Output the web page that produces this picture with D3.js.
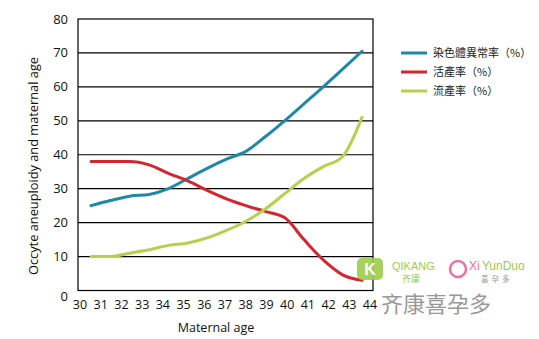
<!DOCTYPE html>
<html><head><meta charset="utf-8">
<script src="https://cdn.jsdelivr.net/npm/d3@7"></script>
<style>body{margin:0;background:#fff}svg{display:block}</style>
</head><body>
<svg id="c" width="539" height="339"></svg>
<script>
const ages = [30,31,32,33,34,35,36,37,38,39,40,41,42,43,44];
const yTicks = [0,10,20,30,40,50,60,70,80];
const aneuploidy = [25,26.5,27.8,28.3,30,33,36,38.7,41,45.3,50,55,60,65.2,70.5];
const liveBirth = [38,38,38,37,34.5,32.3,29.5,27,25,23.3,21.5,15,9,4.6,3];
const miscarriage = [10,10,11,12,13.3,14,15.5,17.7,20.4,24,28.5,33,36.5,39.5,51];
const seriesNames = ["染色體異常率（%）","活產率（%）","流產率（%）"];
const seriesColors = ["#1d89a8","#d3262f","#b7d04c"];
const xTitle = "Maternal age";
const yTitle = "Occyte aneuploidy and maternal age";

const svg = d3.select("#c");
const L=78,R=373,T=19,B=290.5;
const y = d3.scaleLinear().domain([0,80]).range([B,T]);
const xLab = d3.scalePoint().domain(ages).range([80,370]);
const xData = d3.scaleLinear().domain([30,44]).range([91,362]);
const font = "'Open Sans', 'Noto Sans', sans-serif";

// gridlines
svg.append("g").selectAll("line").data(yTicks.filter(d=>d>0&&d<80)).join("line")
  .attr("x1",L).attr("x2",R).attr("y1",d=>y(d)).attr("y2",d=>y(d))
  .attr("stroke","#000").attr("stroke-width",1.2);
svg.append("rect").attr("x",L).attr("y",T).attr("width",R-L).attr("height",B-T)
  .attr("fill","none").attr("stroke","#000").attr("stroke-width",1.2);

// y tick labels
svg.append("g").selectAll("text").data(yTicks).join("text")
  .attr("x",68).attr("y",d=>d===0?y(d)+6:y(d)).attr("dy","0.35em")
  .attr("text-anchor","end").attr("font-family",font).attr("font-size",13).attr("fill","#111")
  .text(d=>d);
// x tick labels
svg.append("g").selectAll("text").data(ages).join("text")
  .attr("x",d=>xLab(d)).attr("y",305).attr("dy","0.35em")
  .attr("text-anchor","middle").attr("font-family",font).attr("font-size",12.5).attr("fill","#111")
  .text(d=>d);
svg.append("text").attr("x",216).attr("y",328).attr("dy","0.35em").attr("text-anchor","middle")
  .attr("font-family",font).attr("font-size",12.5).attr("fill","#111").text(xTitle);
svg.append("text").attr("transform","translate(34,166) rotate(-90)").attr("dy","0.35em")
  .attr("text-anchor","middle").attr("font-family",font).attr("font-size",12.8).attr("fill","#111").text(yTitle);

// lines
const line = d3.line().x((d,i)=>xData(ages[i])).y(d=>y(d)).curve(d3.curveMonotoneX);
[aneuploidy,liveBirth,miscarriage].forEach((s,i)=>{
  svg.append("path").attr("d",line(s)).attr("fill","none")
    .attr("stroke",seriesColors[i]).attr("stroke-width",3).attr("stroke-linejoin","round").attr("stroke-linecap","round");
});

// legend
const lg = svg.append("g");
seriesNames.forEach((n,i)=>{
  const yy = 53 + i*19;
  lg.append("line").attr("x1",401).attr("x2",427).attr("y1",yy).attr("y2",yy)
    .attr("stroke",seriesColors[i]).attr("stroke-width",3);
  lg.append("text").attr("x",433).attr("y",yy).attr("dy","0.35em")
    .attr("font-family","'Noto Sans CJK TC', sans-serif").attr("font-size",11).attr("fill","#222").text(n);
});

// watermark
const wm = svg.append("g");
wm.append("rect").attr("x",357).attr("y",258).attr("width",26).attr("height",22).attr("rx",5).attr("fill","#9ccc4a").attr("opacity",0.9);
wm.append("text").attr("x",370).attr("y",269).attr("dy","0.35em").attr("text-anchor","middle")
  .attr("font-family","sans-serif").attr("font-weight","bold").attr("font-size",16).attr("fill","#fff").text("K");
wm.append("text").attr("x",392).attr("y",266).attr("dy","0.35em").attr("font-family","sans-serif")
  .attr("font-size",11).attr("fill","#9ccc4a").text("QIKANG");
wm.append("text").attr("x",402).attr("y",279).attr("dy","0.35em").attr("font-family","'Noto Sans CJK SC'")
  .attr("font-size",9).attr("fill","#9ccc4a").text("齐康");
wm.append("circle").attr("cx",458).attr("cy",269).attr("r",8).attr("fill","none").attr("stroke","#ec6fa6").attr("stroke-width",2.5);
wm.append("text").attr("x",469).attr("y",266).attr("dy","0.35em").attr("font-family","sans-serif")
  .attr("font-size",12).attr("fill","#ec6fa6").text("Xi");
wm.append("text").attr("x",482).attr("y",266).attr("dy","0.35em").attr("font-family","sans-serif")
  .attr("font-size",12).attr("fill","#9ccc4a").text("YunDuo");
wm.append("text").attr("x",481).attr("y",279).attr("dy","0.35em").attr("font-family","'Noto Sans CJK SC'")
  .attr("font-size",7.5).attr("fill","#999").attr("letter-spacing",3).text("喜孕多");
wm.append("text").attr("x",381).attr("y",304).attr("dy","0.35em").attr("font-family","'Noto Sans CJK SC'")
  .attr("font-size",22).attr("fill","#999").text("齐康喜孕多");
</script>
</body></html>
